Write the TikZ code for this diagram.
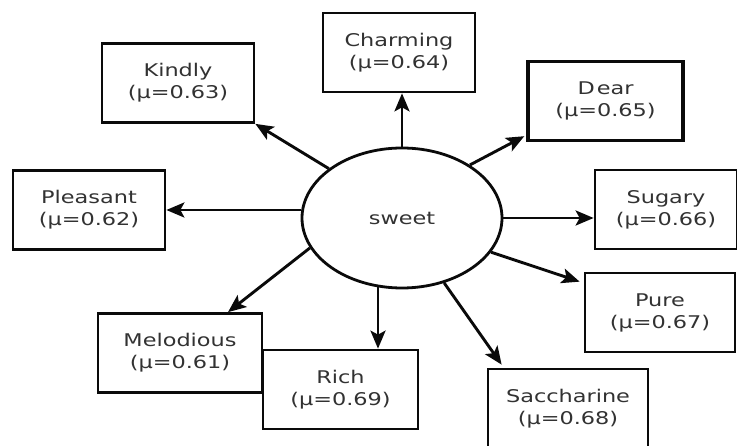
\documentclass[tikz,border=0pt]{standalone}
\usepackage{fontspec}
\newfontfamily\wordfont[FakeStretch=1.28]{DejaVu Sans}
\usepackage{tikz}
\usetikzlibrary{arrows.meta,shapes.geometric,calc}
\definecolor{swedge}{RGB}{10,10,10}
\definecolor{swtext}{RGB}{50,50,50}
\tikzset{
  wbox/.style={
    draw=swedge, line width=2.7pt, fill=white, align=center,
    text=swtext, font=\wordfont\fontsize{17.5}{22}\selectfont,
    minimum width=152pt, minimum height=79pt, inner sep=0pt
  },
  hub/.style={
    ellipse, draw=swedge, line width=2.8pt, fill=white,
    minimum width=200pt, minimum height=140pt, inner sep=0pt,
    text=swtext, font=\wordfont\fontsize{17.5}{22}\selectfont
  },
  arr/.style={-{Stealth[length=18pt,width=15pt,inset=4pt]}, draw=swedge, line width=2.9pt}
}
\begin{document}
\begin{tikzpicture}[x=1pt,y=-1pt]
  \useasboundingbox (0,0) rectangle (737,446);
  \node[hub] (sweet) at (402,218) {sweet};
  \node[wbox] (kindly) at (178,83) {Kindly\\(μ=0.63)};
  \node[wbox] (charming) at (399,52.5) {Charming\\(μ=0.64)};
  \node[wbox, minimum width=155pt, line width=3.4pt] (dear) at (605.5,101) {D\hspace{2pt}ear\\(μ=0.65)};
  \node[wbox] (pleasant) at (89,210) {Pleasant\\(μ=0.62)};
  \node[wbox, minimum width=142pt] (sugary) at (666,209.5) {Sugary\\(μ=0.66)};
  \node[wbox, minimum width=150pt] (pure) at (660,312.5) {Pure\\(μ=0.67)};
  \node[wbox, minimum width=164pt] (melo) at (180,353) {Melodious\\(μ=0.61)};
  \node[wbox, minimum width=155pt] (rich) at (340.5,389.5) {Rich\\(μ=0.69)};
  \node[wbox, minimum width=160pt] (sacc) at (568,408.5) {Saccharine\\(μ=0.68)};
  % arrows out of the hub
  \draw[arr] (sweet.146) -- (kindly.south east);
  \draw[arr] (sweet.north) -- (sweet.north |- charming.south);
  \draw[arr] (sweet.38) -- ($(dear.south west)+(-2,-6)$);
  \draw[arr] (pleasant.east -| sweet.west) -- (pleasant.east);
  \draw[arr] (sweet.east) -- (sweet.east -| sugary.west);
  \draw[arr] (sweet.-21) -- ($(pure.north west)+(-4,10)$);
  \draw[arr] (sweet.-57) -- ($(sacc.north west)+(15,-3)$);
  \draw[arr] ($(sweet.south)+(-24,-2)$) -- ($(rich.north)+(37.5,0)$);
  \draw[arr] (sweet.198) -- ($(melo.north)+(48,0)$);
\end{tikzpicture}
\end{document}
